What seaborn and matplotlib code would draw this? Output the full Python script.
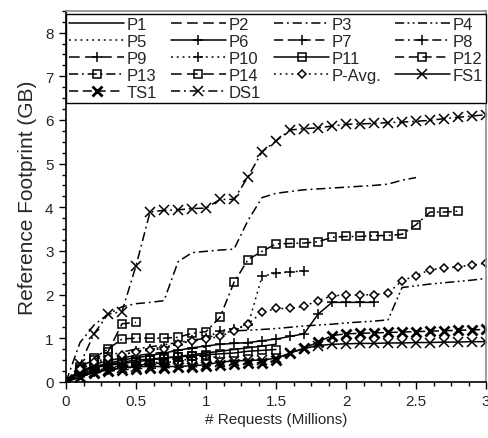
import numpy as np
import pandas as pd
import matplotlib
matplotlib.use("Agg")
import matplotlib.pyplot as plt
from matplotlib.ticker import MultipleLocator
import seaborn as sns

# Reference footprint (GB), sampled every 0.1 million requests from 0
p1 = [0, 0.22, 0.32, 0.38, 0.42, 0.46, 0.50, 0.54, 0.58, 0.62, 0.66, 0.70, 0.74, 0.78, 0.82, 0.86]
p2 = [0, 0.30, 0.40, 0.48, 0.55, 0.60, 0.64, 0.68, 0.72, 0.76, 0.80]
p3 = [0, 0.90, 1.30, 1.55, 1.72, 1.79, 1.82, 1.86, 2.75, 2.96, 2.99, 3.02, 3.04, 3.70,
      4.22, 4.32, 4.36, 4.40, 4.42, 4.44, 4.46, 4.48, 4.50, 4.53, 4.62, 4.68]
p4 = [0, 0.35, 0.50, 0.60, 0.68, 0.75, 0.80, 0.85, 0.90, 0.95, 1.00, 1.10, 1.17, 1.18,
      1.20, 1.22, 1.25, 1.28, 1.30, 1.32, 1.35, 1.37, 1.39, 1.42, 2.16, 2.20, 2.24,
      2.27, 2.30, 2.33, 2.37]
p5 = [0, 0.20, 0.28, 0.33, 0.37, 0.40, 0.43, 0.46, 0.49, 0.52, 0.55, 0.58]
p6 = [0, 0.25, 0.35, 0.42, 0.50, 0.55, 0.60, 0.66, 0.72, 0.78, 0.82, 0.86, 0.88, 0.90,
      0.94, 0.98, 1.04, 1.10, 1.55, 1.82, 1.82, 1.82, 1.82]
p7 = [0, 0.20, 0.30, 0.36, 0.40, 0.44, 0.47, 0.50, 0.53, 0.56, 0.60]
p8 = [0, 0.18, 0.26, 0.31, 0.35, 0.38, 0.41, 0.44, 0.47, 0.50]
p9 = [0, 0.15, 0.22, 0.27, 0.31, 0.34, 0.37, 0.40]
p10 = [0, 0.30, 0.42, 0.50, 0.60, 0.70, 0.75, 0.80, 0.85, 0.95, 1.00, 1.17, 1.22,
       1.30, 2.42, 2.49, 2.52, 2.54]
p11 = [0, 0.25, 0.35, 0.40, 0.45, 0.50, 0.52, 0.55, 0.57, 0.60, 0.62, 0.64, 0.66,
       0.70, 0.72, 0.74]
p12 = [0, 0.20, 0.30, 0.36, 0.42, 0.46, 0.50, 0.53, 0.56, 0.58, 0.60]
p13 = [0, 0.35, 0.55, 0.75, 0.98, 1.00, 1.00, 1.00, 1.02, 1.11, 1.15, 1.48, 2.28,
       2.80, 2.99, 3.16, 3.17, 3.18, 3.21, 3.31, 3.33, 3.33, 3.35, 3.35, 3.38, 3.60,
       3.89, 3.89, 3.91]
p14 = [0, 0.30, 0.50, 0.69, 1.33, 1.36]
p_avg = [0, 0.30, 0.45, 0.55, 0.62, 0.69, 0.73, 0.76, 0.87, 0.94, 0.98, 1.04, 1.17,
         1.33, 1.59, 1.68, 1.68, 1.73, 1.86, 1.97, 1.99, 1.99, 2.00, 2.03, 2.32, 2.43,
         2.57, 2.60, 2.64, 2.67, 2.72]
fs1 = [0, 0.10, 0.22, 0.28, 0.32, 0.35, 0.35, 0.35, 0.35, 0.37, 0.39, 0.45, 0.48,
       0.49, 0.50, 0.54, 0.66, 0.76, 0.83, 0.86, 0.87, 0.88, 0.88, 0.89, 0.89, 0.90,
       0.90, 0.91, 0.91, 0.92, 0.92]
ts1 = [0, 0.12, 0.20, 0.24, 0.27, 0.30, 0.31, 0.32, 0.33, 0.34, 0.36, 0.38, 0.40,
       0.42, 0.44, 0.49, 0.66, 0.77, 0.91, 1.06, 1.10, 1.11, 1.12, 1.13, 1.14, 1.15,
       1.16, 1.17, 1.18, 1.19, 1.20]
ds1 = [0, 0.40, 1.10, 1.55, 1.61, 2.66, 3.89, 3.93, 3.94, 3.97, 3.98, 4.18, 4.18,
       4.70, 5.27, 5.52, 5.77, 5.80, 5.82, 5.86, 5.90, 5.91, 5.92, 5.94, 5.95, 5.97,
       5.99, 6.03, 6.06, 6.09, 6.12]

series = {
    "P1": p1, "P2": p2, "P3": p3, "P4": p4, "P5": p5, "P6": p6, "P7": p7,
    "P8": p8, "P9": p9, "P10": p10, "P11": p11, "P12": p12, "P13": p13,
    "P14": p14, "P-Avg.": p_avg, "FS1": fs1, "TS1": ts1, "DS1": ds1,
}

DASH = (0, (6, 3))
LDASH = (0, (7, 3.5))
DASHDOT = (0, (6, 2.5, 1.2, 2.5))
DASHDOTDOT = (0, (6, 2.2, 1.2, 2.2, 1.2, 2.2))
DOT = (0, (1.2, 2.6))

styles = {
    "P1": dict(linestyle="-", marker=None),
    "P2": dict(linestyle=LDASH, marker=None),
    "P3": dict(linestyle=DASHDOT, marker=None),
    "P4": dict(linestyle=DASHDOTDOT, marker=None),
    "P5": dict(linestyle=DOT, marker=None),
    "P6": dict(linestyle="-", marker="+"),
    "P7": dict(linestyle=DASH, marker="+"),
    "P8": dict(linestyle=DASHDOT, marker="+"),
    "P9": dict(linestyle=LDASH, marker="+"),
    "P10": dict(linestyle=DOT, marker="+"),
    "P11": dict(linestyle="-", marker="s"),
    "P12": dict(linestyle=DASH, marker="s"),
    "P13": dict(linestyle=DASHDOT, marker="s"),
    "P14": dict(linestyle=LDASH, marker="s"),
    "P-Avg.": dict(linestyle=DOT, marker="D"),
    "FS1": dict(linestyle="-", marker="x"),
    "TS1": dict(linestyle=DASH, marker="x"),
    "DS1": dict(linestyle=DASHDOT, marker="x"),
}

sns.set_style("ticks")
plt.rcParams["font.family"] = ["Liberation Sans Narrow", "Liberation Sans", "DejaVu Sans"]

fig, ax = plt.subplots(figsize=(4.89, 4.39), dpi=100)
fig.subplots_adjust(left=0.135, right=0.994, top=0.973, bottom=0.128)

handles = {}
for name, vals in series.items():
    df = pd.DataFrame({"req": np.round(np.arange(len(vals)) * 0.1, 2), "gb": vals})
    st = styles[name]
    mk = st["marker"]
    kw = dict(color="black", linewidth=1.1, linestyle=st["linestyle"])
    if mk is not None:
        kw.update(marker=mk, markeredgecolor="black")
        if mk == "s":
            kw.update(markersize=5.5, markerfacecolor="none", markeredgewidth=1.1)
        elif mk == "D":
            kw.update(markersize=4.2, markerfacecolor="white", markeredgewidth=1.1)
        elif mk == "+":
            kw.update(markersize=6.5, markeredgewidth=1.1)
        elif mk == "x":
            kw.update(markersize=6.5, markeredgewidth=2.0 if name == "TS1" else 1.1)
    sns.lineplot(data=df, x="req", y="gb", ax=ax, label=name, sort=False,
                 estimator=None, legend=False, **kw)
    handles[name] = ax.lines[-1]

ax.set_xlim(0, 3)
ax.set_ylim(0, 8.5)
ax.xaxis.set_major_locator(MultipleLocator(0.5))
ax.xaxis.set_minor_locator(MultipleLocator(0.125))
ax.yaxis.set_major_locator(MultipleLocator(1))
ax.yaxis.set_minor_locator(MultipleLocator(0.25))
ax.set_xticks([0, 0.5, 1, 1.5, 2, 2.5, 3])
ax.set_xticklabels(["0", "0.5", "1", "1.5", "2", "2.5", "3"])
ax.tick_params(axis="both", which="major", length=5, width=1, color="black",
               labelsize=11, direction="out", pad=4)
ax.tick_params(axis="both", which="minor", length=3, width=1, color="black",
               direction="out")
for side in ("left", "bottom"):
    ax.spines[side].set_color("black")
    ax.spines[side].set_linewidth(1.2)
for side in ("top", "right"):
    ax.spines[side].set_visible(True)
    ax.spines[side].set_color("#8c8c8c")
    ax.spines[side].set_linewidth(1.2)

ax.set_xlabel("# Requests (Millions)", fontsize=11, labelpad=3)
ax.set_ylabel("Reference Footprint (GB)", fontsize=15, labelpad=6)

order = ["P1", "P5", "P9", "P13", "TS1",
         "P2", "P6", "P10", "P14", "DS1",
         "P3", "P7", "P11", "P-Avg.",
         "P4", "P8", "P12", "FS1"]
leg = ax.legend([handles[n] for n in order], order, ncol=4, loc="upper left",
                bbox_to_anchor=(0, 0.4, 1, 0.592), mode="expand", borderaxespad=0,
                fontsize=12, handlelength=3.3, handletextpad=0.15,
                labelspacing=0.12, borderpad=0.2, columnspacing=1.0,
                frameon=True, fancybox=False, framealpha=1, edgecolor="black")
leg.get_frame().set_linewidth(1.0)

fig.savefig("out.png", dpi=100)
